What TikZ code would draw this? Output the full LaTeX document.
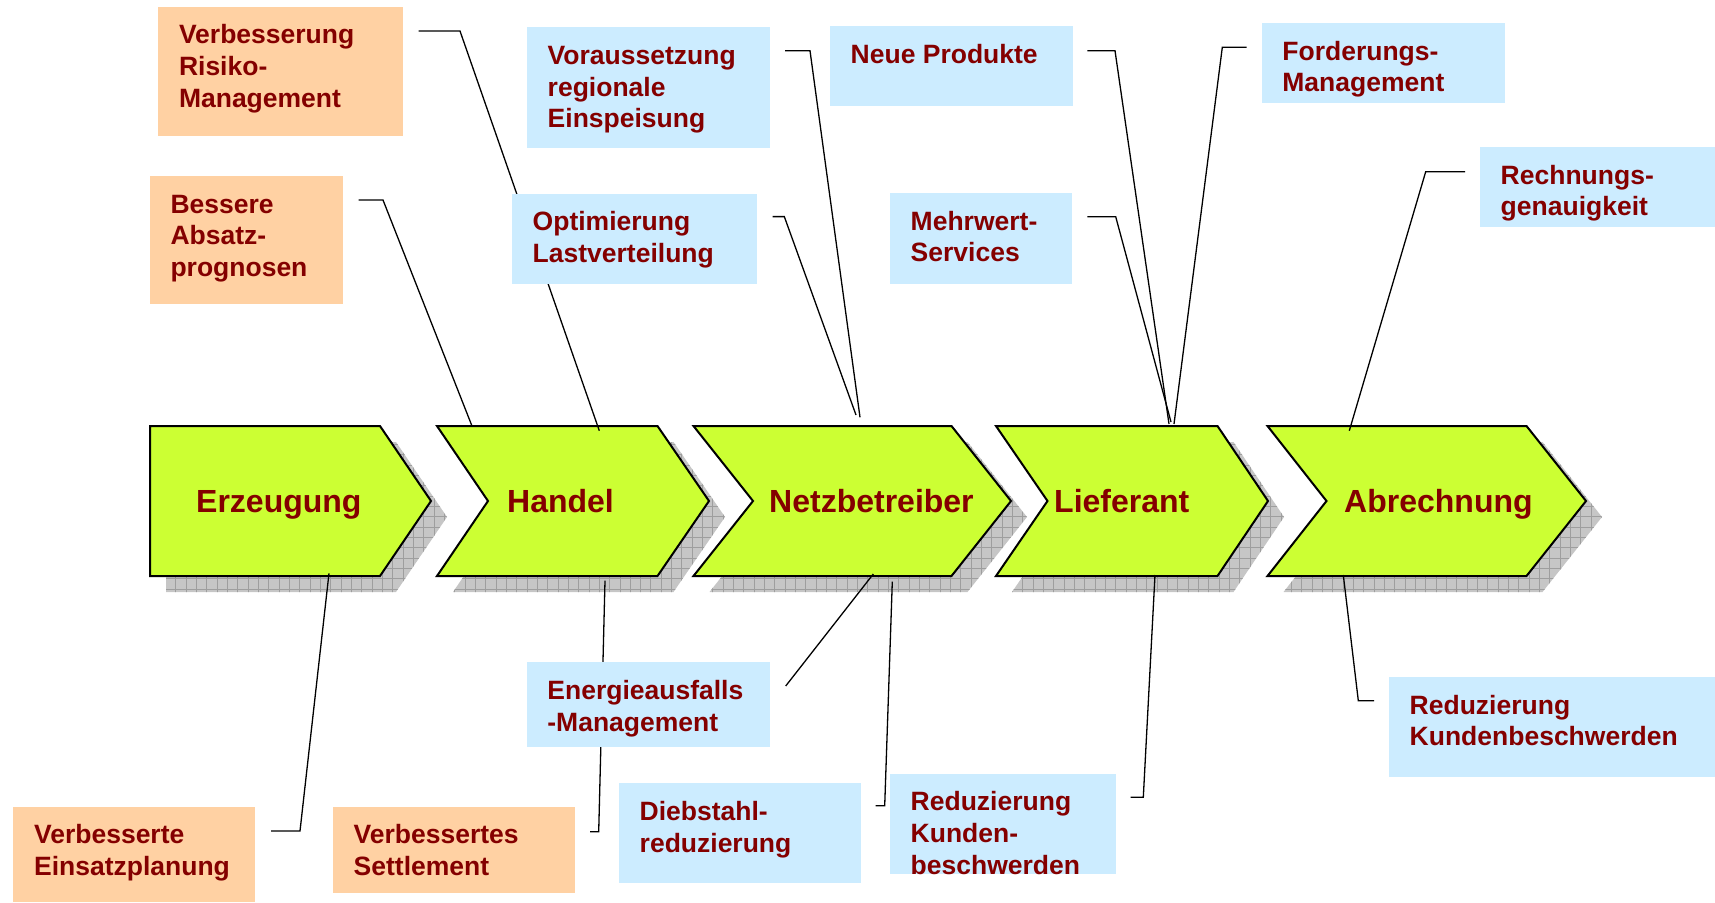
\documentclass[tikz,border=0pt]{standalone}
\usepackage{fontspec}
\setmainfont{Liberation Sans}
\usetikzlibrary{calc}

\definecolor{stepgreen}{RGB}{204,255,51}
\definecolor{labelred}{RGB}{132,0,0}
\definecolor{peach}{RGB}{255,209,163}
\definecolor{skyblue}{RGB}{204,236,255}
\definecolor{shadowfill}{RGB}{198,198,198}
\definecolor{shadowgrid}{RGB}{158,158,158}

% first-line strut: fixes the first baseline 20pt below a text node's top
\newcommand{\firstline}{\rule{0pt}{20pt}}

\tikzset{
  benefit/.style={anchor=north west, inner sep=0pt, outer sep=0pt, draw=none},
  peachbox/.style={benefit, fill=peach},
  bluebox/.style={benefit, fill=skyblue},
  boxtext/.style={anchor=north west, inner sep=0pt, align=left, text=labelred,
    font=\fontsize{26.5}{31.7}\selectfont\bfseries},
  steptext/.style={anchor=base west, inner sep=0pt, text=labelred,
    font=\fontsize{32}{37}\selectfont\bfseries},
  stepshape/.style={fill=stepgreen, draw=black, line width=2pt, line join=miter},
  conn/.style={draw=black, line width=1.3pt, line join=miter}
}

\begin{document}
\begin{tikzpicture}[x=1pt, y=-1pt]
\useasboundingbox (0,0) rectangle (1715,902);

% ---- value chain: shadows ----
\foreach \l/\n/\r/\t in {150/150/380/431, 437/488/657.5/709, 693.5/753/951.5/1011,
                         996/1047.5/1217.5/1268, 1267.5/1326.5/1526.5/1586}{
  \begin{scope}
    \clip[shift={(16,16)}] (\l,426) -- (\r,426) -- (\t,501) -- (\r,576) -- (\l,576) -- (\n,501) -- cycle;
    \fill[shadowfill] (\l,420) rectangle (\t+20,600);
    \draw[shadowgrid, line width=0.6pt, step=10.33pt] (\l,420) grid (\t+20,600);
  \end{scope}
}

% ---- value chain: steps ----
\foreach \l/\n/\r/\t in {150/150/380/431, 437/488/657.5/709, 693.5/753/951.5/1011,
                         996/1047.5/1217.5/1268, 1267.5/1326.5/1526.5/1586}{
  \draw[stepshape] (\l,426) -- (\r,426) -- (\t,501) -- (\r,576) -- (\l,576) -- (\n,501) -- cycle;
}

\node[steptext] (erz)  at (196,512.5)  {Erzeugung};
\node[steptext] (han)  at (507,512.5)  {Handel};
\node[steptext] (netz) at (769,512.5)  {Netzbetreiber};
\node[steptext] (lief) at (1054,512.5) {Lieferant};
\node[steptext] (abr)  at (1344,512.5) {Abrechnung};

% attachment points on the steps
\coordinate (han-a)  at (599.3,430.7);
\coordinate (han-b)  at (471.7,425.3);
\coordinate (netz-c) at (856,415);
\coordinate (netz-d) at (860,417.3);
\coordinate (lief-e) at (1169,424);
\coordinate (lief-f) at (1171,422);
\coordinate (lief-g) at (1174,424);
\coordinate (abr-h)  at (1349.3,430.7);
\coordinate (erz-i)  at (329,573.3);
\coordinate (han-j)  at (605,580.7);
\coordinate (netz-k) at (873.3,574);
\coordinate (netz-l) at (892.3,581.7);
\coordinate (lief-m) at (1155,575);
\coordinate (abr-n)  at (1343.3,575);

% ---- benefit boxes (placed first so connectors can refer to them) ----
\path
  (158.3,6.7)   node[peachbox, minimum width=244.4, minimum height=129]  (b1) {}
  (149.8,176)   node[peachbox, minimum width=192.9, minimum height=128]  (b2) {}
  (13.4,806.7)  node[peachbox, minimum width=241.1, minimum height=95]   (b3) {}
  (333,806.7)   node[peachbox, minimum width=242,   minimum height=86]   (b4) {}
  (527,27.3)    node[bluebox,  minimum width=243,   minimum height=120.4] (b5) {}
  (512,193.6)   node[bluebox,  minimum width=245,   minimum height=90.4] (b6) {}
  (830,26)      node[bluebox,  minimum width=242.7, minimum height=79.7] (b7) {}
  (890,193)     node[bluebox,  minimum width=181.7, minimum height=90.7] (b8) {}
  (1261.7,23)   node[bluebox,  minimum width=243.3, minimum height=79.7] (b9) {}
  (1480,147)    node[bluebox,  minimum width=235,   minimum height=80]   (b10) {}
  (526.7,662.3) node[bluebox,  minimum width=243.3, minimum height=84.4] (b11) {}
  (619,783.3)   node[bluebox,  minimum width=241.7, minimum height=99.4] (b12) {}
  (890,773.7)   node[bluebox,  minimum width=226,   minimum height=100]  (b13) {}
  (1389,677)    node[bluebox,  minimum width=326,   minimum height=99.7] (b14) {};

% ---- connectors (drawn under the boxes, over the steps) ----
\begin{scope}[every path/.style={conn}]
  \draw ($(b1.north east)+(15.8,24.3)$) -- ++(41.5,0) -- (han-a);
  \draw ($(b2.north east)+(15.8,24)$)   -- ++(24.5,0) -- (han-b);
  \draw ($(b6.north east)+(15.7,23)$)   -- ++(11.6,0) -- (netz-c);
  \draw ($(b5.north east)+(15,23.4)$)   -- ++(25,0)   -- (netz-d);
  \draw ($(b7.north east)+(14.6,24.7)$) -- ++(27.7,0) -- (lief-e);
  \draw ($(b8.north east)+(15.6,23.7)$) -- ++(28.4,0) -- (lief-f);
  \draw ($(b9.north west)+(-15,24.3)$)  -- ++(-24.4,0) -- (lief-g);
  \draw ($(b10.north west)+(-15,24.7)$) -- ++(-39.3,0) -- (abr-h);
  \draw (erz-i)  -- ($(b3.north east)+(45.5,24.3)$) -- ++(-29,0);
  \draw (han-j)  -- ($(b4.north east)+(23.7,25)$)   -- ++(-8.7,0);
  \draw (netz-k) -- ($(b11.north east)+(15.7,23.7)$);
  \draw (netz-l) -- ($(b12.north east)+(24,22.4)$)  -- ++(-9,0);
  \draw (lief-m) -- ($(b13.north east)+(27.3,23.6)$) -- ++(-12.6,0);
  \draw (abr-n)  -- ($(b14.north west)+(-30.7,23.7)$) -- ++(15.7,0);
\end{scope}

% ---- boxes redrawn on top of the connectors ----
\foreach \b/\c in {b1/peach, b2/peach, b3/peach, b4/peach, b5/skyblue, b6/skyblue,
                   b7/skyblue, b8/skyblue, b9/skyblue, b10/skyblue, b11/skyblue,
                   b12/skyblue, b13/skyblue, b14/skyblue}{
  \fill[\c] (\b.north west) rectangle (\b.south east);
}

% ---- box texts ----
\node[boxtext] (t1)  at ($(b1.north west)+(20.5,17)$)  {\firstline Verbesserung\\Risiko-\\Management};
\node[boxtext] (t2)  at ($(b2.north west)+(20.5,17)$)  {\firstline Bessere\\Absatz-\\prognosen};
\node[boxtext] (t3)  at ($(b3.north west)+(20.5,17)$)  {\firstline Verbesserte\\Einsatzplanung};
\node[boxtext] (t4)  at ($(b4.north west)+(20.5,17)$)  {\firstline Verbessertes\\Settlement};
\node[boxtext] (t5)  at ($(b5.north west)+(20.5,17)$)  {\firstline Voraussetzung\\regionale\\Einspeisung};
\node[boxtext] (t6)  at ($(b6.north west)+(20.5,17)$)  {\firstline Optimierung\\Lastverteilung};
\node[boxtext] (t7)  at ($(b7.north west)+(20.5,17)$)  {\firstline Neue Produkte};
\node[boxtext] (t8)  at ($(b8.north west)+(20.5,17)$)  {\firstline Mehrwert-\\Services};
\node[boxtext] (t9)  at ($(b9.north west)+(20.5,17)$)  {\firstline Forderungs-\\Management};
\node[boxtext] (t10) at ($(b10.north west)+(20.5,17)$) {\firstline Rechnungs-\\genauigkeit};
\node[boxtext] (t11) at ($(b11.north west)+(20.5,17)$) {\firstline Energieausfalls\\-Management};
\node[boxtext] (t12) at ($(b12.north west)+(20.5,17)$) {\firstline Diebstahl-\\reduzierung};
\node[boxtext] (t13) at ($(b13.north west)+(20.5,17)$) {\firstline Reduzierung\\Kunden-\\beschwerden};
\node[boxtext] (t14) at ($(b14.north west)+(20.5,17)$) {\firstline Reduzierung\\Kundenbeschwerden};
\end{tikzpicture}
\end{document}
